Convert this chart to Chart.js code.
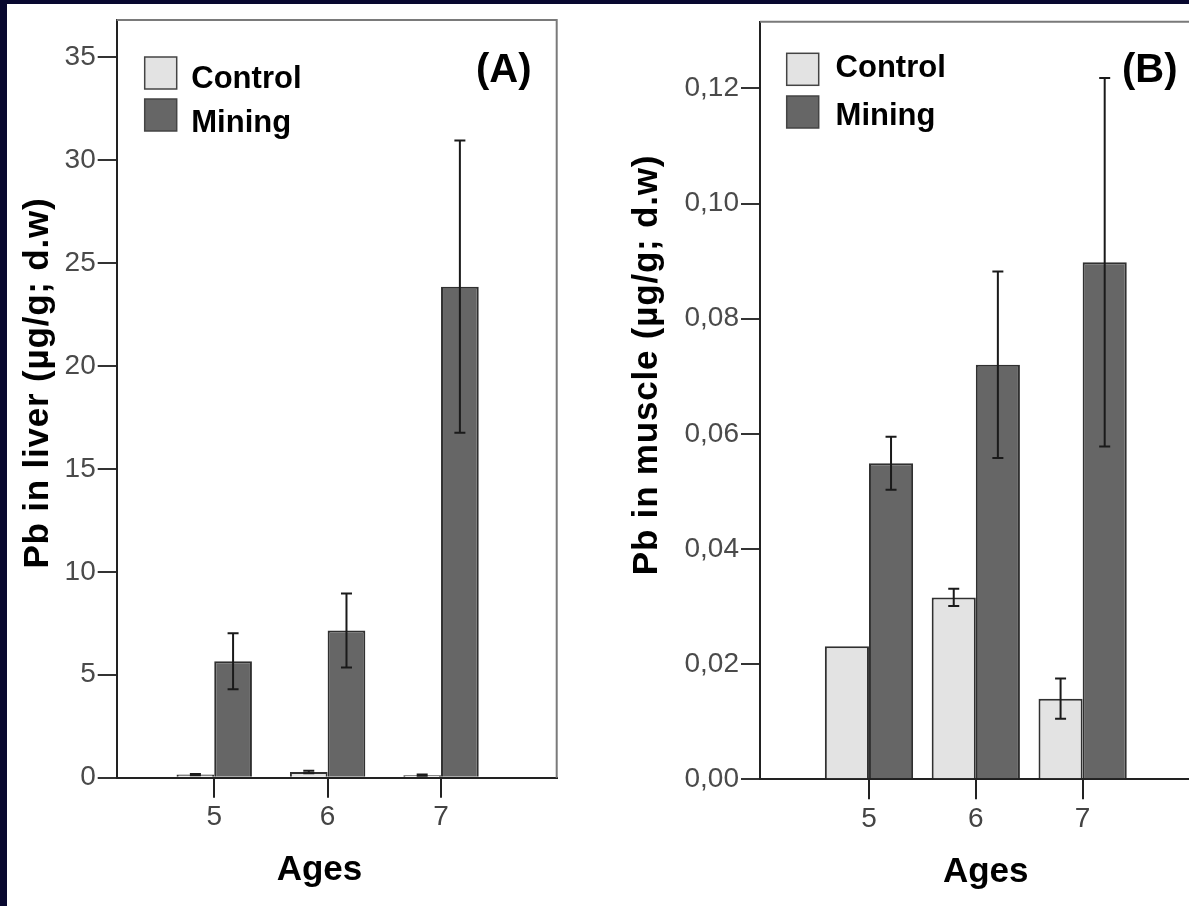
<!DOCTYPE html>
<html>
<head>
<meta charset="utf-8">
<script src="https://cdn.jsdelivr.net/npm/chart.js@4.4.1/dist/chart.umd.min.js"></script>
<style>
  html, body { margin: 0; padding: 0; width: 1189px; height: 906px; overflow: hidden; background: #08082f; }
  #panel { position: absolute; left: 7px; top: 4px; right: 0; bottom: 0; background: #fff; }
  canvas { position: absolute; top: 0; }
</style>
</head>
<body>
<div id="panel"></div>
<canvas id="liver" width="590" height="906" style="left:0"></canvas>
<canvas id="muscle" width="700" height="906" style="left:590px"></canvas>
<script>
// data
var ages = [5, 6, 7];
var seriesNames = ["Control", "Mining"];

var liverControl = [0.15, 0.28, 0.12];
var liverControlErr = [0.03, 0.06, 0.03];
var liverMining = [5.65, 7.15, 23.85];
var liverMiningErr = [1.36, 1.8, 7.1];
var liverTicks = [0, 5, 10, 15, 20, 25, 30, 35];

var muscleControl = [0.0231, 0.0316, 0.0140];
var muscleControlErr = [0, 0.0015, 0.0035];
var muscleMining = [0.0549, 0.0720, 0.0898];
var muscleMiningErr = [0.0046, 0.0162, 0.032];
var muscleTicks = [0, 0.02, 0.04, 0.06, 0.08, 0.10, 0.12];

var FONT = '"Liberation Sans", Arial, sans-serif';
var colControl = "#e3e3e3";
var colMining = "#666666";

function points(vals) {
  return ages.map(function (a, i) { return { x: a, y: vals[i] }; });
}

// error bars, frame, legend, labels
var decor = {
  id: "decor",
  afterDatasetsDraw: function (chart, args, o) {
    var ctx = chart.ctx, a = chart.chartArea, ys = chart.scales.y;
    ctx.save();

    // error bars
    ctx.strokeStyle = "#1a1a1a";
    ctx.lineWidth = 2;
    chart.data.datasets.forEach(function (ds, d) {
      var meta = chart.getDatasetMeta(d);
      meta.data.forEach(function (bar, i) {
        var e = ds.errors[i];
        if (!e) return;
        var v = ds.data[i].y;
        var top = ys.getPixelForValue(v + e);
        var bot = ys.getPixelForValue(v - e);
        ctx.beginPath();
        ctx.moveTo(bar.x, top); ctx.lineTo(bar.x, bot);
        ctx.moveTo(bar.x - 5.5, top); ctx.lineTo(bar.x + 5.5, top);
        ctx.moveTo(bar.x - 5.5, bot); ctx.lineTo(bar.x + 5.5, bot);
        ctx.stroke();
      });
    });

    // top and right frame
    ctx.strokeStyle = "#7a7a7a";
    ctx.lineWidth = 2;
    ctx.beginPath();
    ctx.moveTo(a.left, a.top); ctx.lineTo(a.right, a.top); ctx.lineTo(a.right, a.bottom);
    ctx.stroke();

    // legend
    var lg = o.legend;
    ctx.font = "bold 31px " + FONT;
    ctx.textAlign = "left";
    ctx.textBaseline = "alphabetic";
    chart.data.datasets.forEach(function (ds, d) {
      var sx = a.left + lg.dx, sy = a.top + lg.dy[d];
      ctx.fillStyle = ds.backgroundColor;
      ctx.fillRect(sx, sy, 32, 32);
      ctx.strokeStyle = "#444";
      ctx.lineWidth = 1.5;
      ctx.strokeRect(sx, sy, 32, 32);
      ctx.fillStyle = "#000";
      ctx.fillText(ds.label, a.left + lg.tx, a.top + lg.ty[d]);
    });

    // panel letter
    ctx.font = "bold 40px " + FONT;
    ctx.fillText(o.letter.text, o.letter.x, o.letter.y);

    // axis titles
    ctx.textAlign = "center";
    ctx.font = "bold 35px " + FONT;
    ctx.fillText(o.xTitle.text, o.xTitle.x, o.xTitle.y);
    ctx.translate(o.yTitle.x, o.yTitle.y);
    ctx.rotate(-Math.PI / 2);
    ctx.letterSpacing = "0.8px";
    ctx.font = "bold 35px " + FONT;
    ctx.fillText(o.yTitle.text, 0, 0);

    ctx.restore();
  }
};

function makeChart(id, cfg) {
  return new Chart(document.getElementById(id), {
    type: "bar",
    data: {
      datasets: [
        { label: seriesNames[0], data: points(cfg.control), errors: cfg.controlErr,
          backgroundColor: colControl, borderColor: "#303030", borderWidth: 2 },
        { label: seriesNames[1], data: points(cfg.mining), errors: cfg.miningErr,
          backgroundColor: colMining, borderColor: "#303030", borderWidth: 2 }
      ]
    },
    options: {
      responsive: false,
      animation: false,
      datasets: { bar: { categoryPercentage: cfg.catPct, barPercentage: 1 } },
      layout: { padding: cfg.padding },
      plugins: {
        legend: { display: false },
        tooltip: { enabled: false },
        decor: cfg.decor
      },
      scales: {
        x: {
          type: "linear",
          min: cfg.xMin, max: cfg.xMax,
          offset: false,
          afterBuildTicks: function (s) { s.ticks = ages.map(function (v) { return { value: v }; }); },
          afterFit: function (s) { s.height = 60; },
          grid: { offset: false, drawOnChartArea: false, drawTicks: true, tickLength: 20, color: "#222", lineWidth: 2 },
          border: { display: true, color: "#222", width: 2 },
          ticks: { color: "#444", padding: 3, font: { family: FONT, size: 28 },
                   callback: function (v) { return String(v); } }
        },
        y: {
          min: 0, max: cfg.yMax,
          afterBuildTicks: function (s) { s.ticks = cfg.yTicks.map(function (v) { return { value: v }; }); },
          afterFit: function (s) { s.width = cfg.yWidth; },
          grid: { drawOnChartArea: false, drawTicks: true, tickLength: 19, color: "#333", lineWidth: 2 },
          border: { display: true, color: "#222", width: 2 },
          ticks: { color: "#4a4a4a", padding: 2, font: { family: FONT, size: 28 }, callback: cfg.fmt }
        }
      }
    },
    plugins: [decor]
  });
}

makeChart("liver", {
  control: liverControl, controlErr: liverControlErr,
  mining: liverMining, miningErr: liverMiningErr,
  yTicks: liverTicks, yMax: 36.8, xMin: 4.14, xMax: 8.02, catPct: 0.665,
  yWidth: 116.7,
  padding: { left: 0, top: 20, right: 33.3, bottom: 68.3 },
  fmt: function (v) { return String(v); },
  decor: {
    legend: { dx: 28, dy: [37, 79], tx: 74.6, ty: [68.3, 111.7] },
    letter: { text: "(A)", x: 476, y: 82 },
    xTitle: { text: "Ages", x: 319.5, y: 880 },
    yTitle: { text: "Pb in liver (\u00b5g/g; d.w)", x: 48, y: 383 }
  }
});

makeChart("muscle", {
  control: muscleControl, controlErr: muscleControlErr,
  mining: muscleMining, miningErr: muscleMiningErr,
  yTicks: muscleTicks, yMax: 0.1316, xMin: 3.98, xMax: 8.37, catPct: 0.826,
  yWidth: 170,
  padding: { left: 0, top: 21.7, right: 61, bottom: 66.7 },
  fmt: function (v) { return v.toFixed(2).replace(".", ","); },
  decor: {
    legend: { dx: 26.7, dy: [31.6, 74.3], tx: 75.6, ty: [55, 103.3] },
    letter: { text: "(B)", x: 532, y: 82 },
    xTitle: { text: "Ages", x: 395.7, y: 882 },
    yTitle: { text: "Pb in muscle (\u00b5g/g; d.w)", x: 67, y: 365 }
  }
});
</script>
</body>
</html>
